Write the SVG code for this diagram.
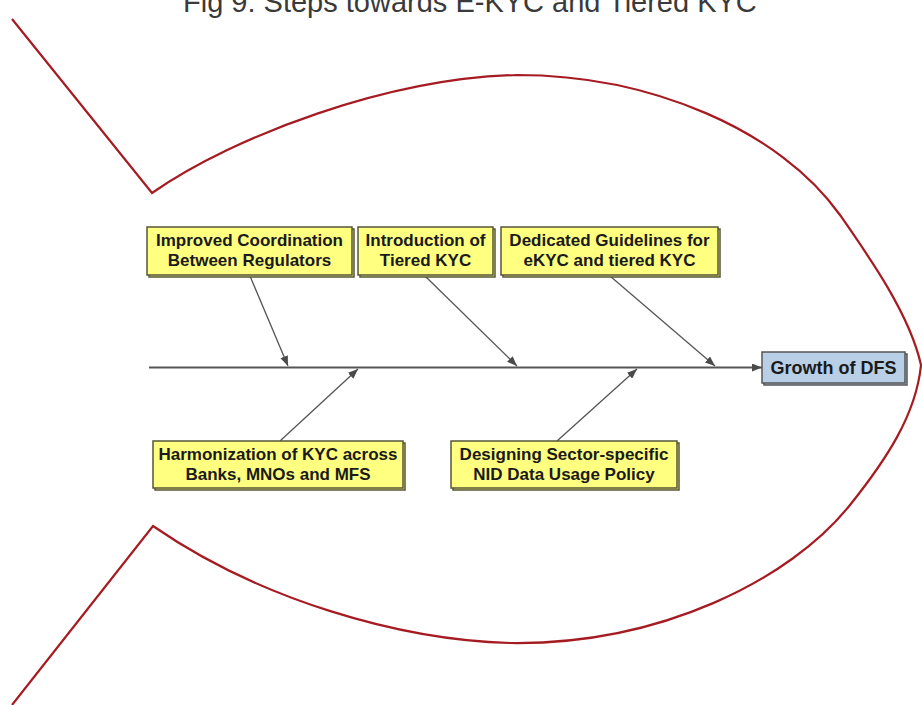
<svg xmlns="http://www.w3.org/2000/svg" width="922" height="705" viewBox="0 0 922 705">
  <defs>
    <style>
      .title { font-family: "Liberation Sans", Arial, sans-serif; font-size: 29px; fill: #3a3a3a; }
      .fish { fill: none; stroke: #a61b22; stroke-width: 2.2; stroke-linejoin: miter; }
      .cause rect { fill: #ffff80; stroke: #55553a; stroke-width: 1.5; }
      .effect rect { fill: #b8cfe6; stroke: #555555; stroke-width: 1.5; }
      .shadow { fill: #c8c8c8; stroke: none; }
      .label { font-family: "Liberation Sans", Arial, sans-serif; font-weight: bold; font-size: 17px; fill: #1a1a1a; text-anchor: middle; }
      .big { font-size: 18px; }
      .bone { stroke: #555555; stroke-width: 1.3; fill: none; marker-end: url(#tip); }
      .spine { stroke: #555555; stroke-width: 2; fill: none; marker-end: url(#tip); }
    </style>
    <marker id="tip" viewBox="0 0 10 8" refX="10" refY="4" markerWidth="10" markerHeight="8" markerUnits="userSpaceOnUse" orient="auto">
      <path d="M0,0 L10,4 L0,8 Z" fill="#4a4a4a"/>
    </marker>
  </defs>

  <rect width="922" height="705" fill="#ffffff"/>

  <text class="title" x="183" y="12">Fig 9: Steps towards E-KYC and Tiered KYC</text>

  <!-- fish outline: tail lines, body and head -->
  <path class="fish" d="M12,19 L152,193 C235,135 390,78 517,75 C650,75 780,130 840,215 C870,258 910,315 921,365 C916,415 886,460 850,505 C790,580 660,645 510,643 C400,640 260,600 153,526 L12,705"/>

  <!-- spine and bones -->
  <g id="connectors">
    <line class="spine" x1="149" y1="367.5" x2="762" y2="367.5"/>
    <line class="bone" x1="250" y1="276" x2="288" y2="366"/>
    <line class="bone" x1="425" y1="276" x2="517" y2="366"/>
    <line class="bone" x1="610" y1="276" x2="715" y2="366"/>
    <line class="bone" x1="280" y1="441" x2="358" y2="369"/>
    <line class="bone" x1="557" y1="441" x2="637" y2="369"/>
  </g>

  <g id="cause-coordination" class="cause">
    <rect class="shadow" x="149" y="229" width="205" height="48"/>
    <rect x="147" y="227" width="205" height="48"/>
    <text class="label" x="249.5" y="246">Improved Coordination</text>
    <text class="label" x="249.5" y="266">Between Regulators</text>
  </g>

  <g id="cause-tiered" class="cause">
    <rect class="shadow" x="360" y="229" width="135" height="48"/>
    <rect x="358" y="227" width="135" height="48"/>
    <text class="label" x="425.5" y="246">Introduction of</text>
    <text class="label" x="425.5" y="266">Tiered KYC</text>
  </g>

  <g id="cause-guidelines" class="cause">
    <rect class="shadow" x="503" y="229" width="217" height="48"/>
    <rect x="501" y="227" width="217" height="48"/>
    <text class="label" x="609.5" y="246">Dedicated Guidelines for</text>
    <text class="label" x="609.5" y="266">eKYC and tiered KYC</text>
  </g>

  <g id="cause-harmonization" class="cause">
    <rect class="shadow" x="155" y="443" width="250" height="47"/>
    <rect x="153" y="441" width="250" height="47"/>
    <text class="label" x="278" y="460">Harmonization of KYC across</text>
    <text class="label" x="278" y="480">Banks, MNOs and MFS</text>
  </g>

  <g id="cause-nid" class="cause">
    <rect class="shadow" x="453" y="443" width="226" height="47"/>
    <rect x="451" y="441" width="226" height="47"/>
    <text class="label" x="564" y="460">Designing Sector-specific</text>
    <text class="label" x="564" y="480">NID Data Usage Policy</text>
  </g>

  <g id="effect-growth" class="effect">
    <rect class="shadow" x="764" y="354" width="143" height="31"/>
    <rect x="762" y="352" width="143" height="31"/>
    <text class="label big" x="833.5" y="374">Growth of DFS</text>
  </g>
</svg>
